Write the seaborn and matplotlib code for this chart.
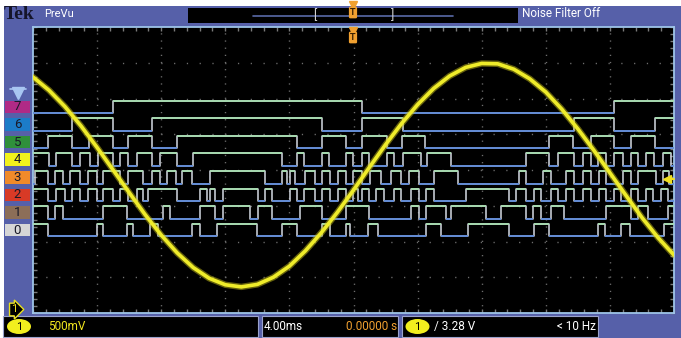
import matplotlib
matplotlib.use("Agg")
import matplotlib.pyplot as plt
import seaborn as sns
from matplotlib.patches import Rectangle, FancyBboxPatch, Ellipse
from matplotlib.lines import Line2D
from matplotlib.transforms import blended_transform_factory

# ---------------- data (time in ms, 4 ms/div; analog value in divisions) -------------
time_ms = list(range(-20, 21))
ch1_div = [2.60, 2.23, 1.77, 1.23, 0.63, 0.00, -0.63, -1.25, -1.82, -2.32,
           -2.73, -3.03, -3.21, -3.27, -3.20, -3.00, -2.69, -2.26, -1.75, -1.18,
           -0.56, 0.08, 0.71, 1.30, 1.83, 2.28, 2.63, 2.87, 2.98, 2.97,
           2.82, 2.55, 2.18, 1.70, 1.15, 0.55, -0.08, -0.71, -1.33, -1.89, -2.38]

# digital channels: logic state at left edge and transition times (ms)
d7_start = 0
d7_edges = [-15.0, 0.5, 16.25]
d6_start = 0
d6_edges = [-17.56, -15.0, -12.56, -1.94, 0.5, 3.06, 13.75, 16.25, 18.81]
d5_start = 0
d5_edges = [-19.06, -17.56, -16.5, -15.0, -14.06, -12.56, -11.0, -3.5, -1.94, -0.44,
            0.56, 2.06, 3.0, 4.44, 12.19, 13.69, 14.81, 16.25, 17.31, 18.81]
d4_start = 1
d4_edges = [-19.0, -18.56, -17.56, -17.06, -16.44, -15.94, -15.0, -14.56, -14.06, -13.5,
            -12.56, -12.06, -11.0, -10.0, -4.44, -3.5, -3.12, -1.94, -1.56, -0.44,
            -0.06, 0.56, 0.94, 2.12, 2.5, 3.12, 4.19, 4.56, 6.06, 10.75,
            12.19, 12.75, 13.75, 14.31, 14.81, 15.25, 15.75, 16.25, 16.81, 17.31,
            17.75, 18.25, 18.75, 19.31, 19.81]
d3_start = 0
d3_edges = [-19.88, -19.06, -18.62, -18.12, -17.69, -17.06, -16.56, -16.0, -15.62, -14.56,
            -14.06, -13.12, -12.56, -12.06, -11.62, -11.06, -10.69, -10.06, -8.94, -5.5,
            -4.44, -4.12, -3.94, -3.62, -3.0, -2.38, -1.94, -1.44, -0.94, -0.44,
            -0.06, 0.56, 1.06, 1.69, 2.31, 2.94, 3.44, 4.06, 5.0, 6.5,
            10.31, 10.75, 11.81, 12.31, 13.25, 13.75, 14.31, 14.81, 15.31, 15.75,
            16.81, 17.31, 17.75, 18.88, 19.31, 19.69]
d2_start = 1
d2_edges = [-19.06, -18.56, -18.0, -17.56, -17.06, -16.56, -16.0, -15.62, -15.0, -14.56,
            -14.06, -13.5, -13.12, -12.81, -11.0, -9.56, -9.12, -8.94, -8.62, -8.12,
            -5.94, -5.5, -5.06, -3.94, -3.5, -3.12, -2.38, -1.94, -1.44, -0.94,
            -0.44, -0.06, 0.25, 0.56, 0.94, 1.38, 1.88, 2.5, 2.94, 3.56,
            4.06, 4.5, 5.0, 7.0, 9.69, 10.12, 10.75, 11.25, 11.69, 12.31,
            12.75, 13.25, 13.75, 14.31, 14.81, 15.31, 15.75, 16.25, 16.69, 17.31,
            17.75, 18.25, 18.69, 19.19, 19.62]
d1_start = 1
d1_edges = [-19.06, -18.62, -18.12, -15.62, -14.12, -11.88, -11.44, -9.56, -8.62, -8.12,
            -6.44, -5.94, -5.06, -3.31, -1.94, -0.44, 0.94, 3.56, 4.06, 4.5,
            5.75, 6.06, 8.25, 9.19, 10.75, 11.19, 11.69, 12.31, 13.12, 15.75,
            17.31, 17.75, 18.38, 19.62]
d0_start = 1
d0_edges = [-19.06, -16.0, -15.62, -14.12, -13.75, -12.69, -12.19, -10.06, -9.56, -8.5,
            -6.0, -4.44, -3.5, -1.94, -1.44, -0.44, -0.19, 0.88, 1.5, 4.5,
            5.44, 7.12, 9.69, 11.25, 12.19, 15.25, 15.69, 16.69, 17.25, 19.38]

channel_names = ["0", "1", "2", "3", "4", "5", "6", "7"]
channel_starts = [d0_start, d1_start, d2_start, d3_start, d4_start, d5_start, d6_start, d7_start]
channel_edges = [d0_edges, d1_edges, d2_edges, d3_edges, d4_edges, d5_edges, d6_edges, d7_edges]
channel_colors = ["#d6d6d6", "#8c6e58", "#d83a26", "#f08a2a", "#f2f21c", "#2f8f3a", "#1c7cc8", "#b02a86"]

trigger_level_div = -0.25

volts_div = "500mV"
time_div = "4.00ms"
trig_pos = "0.00000 s"
trig_level = "3.28 V"
freq_text = "< 10 Hz"

# ---------------- figure layout -------------
W, H = 681, 338
sns.set_style("white")
plt.rcParams["font.family"] = ["Roboto", "DejaVu Sans"]

fig = plt.figure(figsize=(W / 100, H / 100), dpi=100, facecolor="white")


def fx(x):
    return x / W


def fy(y):
    return 1 - y / H


frame_col = "#5660a9"
fig.patches.append(Rectangle((fx(4), 0), 1 - fx(4), fy(6), transform=fig.transFigure,
                             fc=frame_col, ec="none", zorder=-5))

ax = fig.add_axes([fx(33), fy(313), (674 - 33) / W, (313 - 27) / H])
ax.set_zorder(1)
ax.set_facecolor("black")
ax.set_xlim(-20, 20)
ax.set_ylim(-4, 4)

# graticule
grid_col = "#6e6e6e"
ax.vlines([-16, -12, -8, -4, 0, 4, 8, 12, 16], -4, 4, colors=grid_col,
          linestyles=[(0, (0.9, 4.25))], lw=1.0, zorder=1)
ax.hlines([-3, -2, -1, 0, 1, 2, 3], -20, 20, colors=grid_col,
          linestyles=[(0, (0.9, 8.3))], lw=1.0, zorder=1)
ax.set_xticks([-20, -16, -12, -8, -4, 0, 4, 8, 12, 16, 20])
ax.set_yticks([-4, -3, -2, -1, 0, 1, 2, 3, 4])
ax.set_xticks([i * 0.8 - 20 for i in range(51)], minor=True)
ax.set_yticks([i * 0.2 - 4 for i in range(41)], minor=True)
ax.tick_params(which="both", direction="in", top=True, right=True, bottom=True, left=True,
               labelbottom=False, labelleft=False, length=3, width=1, color="#7a7a7a")
for sp in ax.spines.values():
    sp.set_color("#9ec4e8")
    sp.set_linewidth(1.3)

# digital traces
hi_col, lo_col, edge_col = "#a6dcae", "#5d88d6", "#d6dae4"
base_hi, spacing, swing = -1.51, 0.493, 0.35
trans_lab = blended_transform_factory(fig.transFigure, ax.transData)
for k in range(8):
    hi = base_hi + k * spacing
    lo = hi - swing
    edges = channel_edges[k]
    xs = [-20.0] + list(edges) + [20.0]
    states = [channel_starts[k]]
    for _ in edges:
        states.append(1 - states[-1])
    ys = [hi if s else lo for s in states] + [hi if states[-1] else lo]
    sns.lineplot(x=xs, y=ys, ax=ax, drawstyle="steps-post", color=edge_col, lw=1.1,
                 sort=False, estimator=None, legend=False, zorder=2)
    for i, s in enumerate(states):
        ax.hlines(hi if s else lo, xs[i], xs[i + 1], colors=hi_col if s else lo_col,
                  lw=1.3, zorder=3)
    # channel label box on the left
    ax.add_patch(Rectangle((fx(5), lo), (30 - 5) / W, swing, transform=trans_lab,
                           fc=channel_colors[k], ec="none", clip_on=False, zorder=4))
    ax.text(fx(17.5), (lo + hi) / 2, channel_names[k], transform=trans_lab, ha="center",
            va="center", fontsize=9.5, color="#1a1a28", clip_on=False, zorder=5)

# analog channel 1
sns.lineplot(x=time_ms, y=ch1_div, ax=ax, color="#c8c018", lw=4.6, alpha=0.5,
             sort=False, estimator=None, legend=False, zorder=6)
sns.lineplot(x=time_ms, y=ch1_div, ax=ax, color="#efec2a", lw=2.6,
             sort=False, estimator=None, legend=False, zorder=7)
ax.set_xlabel("")
ax.set_ylabel("")

# trigger level arrow (right side)
ax.plot([19.55, 20.0], [trigger_level_div, trigger_level_div], color="#f0e020", lw=1.5,
        zorder=8, clip_on=False)
ax.plot([19.55], [trigger_level_div], marker="<", ms=6, color="#f0e020", zorder=8,
        clip_on=False)

# funnel icon above channel labels
fig.lines.append(Line2D([fx(18)], [fy(93)], marker="v", ms=8, color="#a8c6f2",
                        transform=fig.transFigure, zorder=5))
fig.lines.append(Line2D([fx(10), fx(26)], [fy(88.5), fy(88.5)], color="#a8c6f2", lw=1.2,
                        transform=fig.transFigure, zorder=5))

# top bar
fig.text(fx(4), fy(14.5), "Tek", family=["Liberation Serif", "DejaVu Serif"],
         fontweight="bold", fontsize=14, color="#15152a", va="center", ha="left")
fig.text(fx(44), fy(14), "PreVu", fontsize=8, color="white", va="center", ha="left")
fig.patches.append(Rectangle((fx(188), fy(23)), (518 - 188) / W, 15 / H,
                             transform=fig.transFigure, fc="black", ec="none", zorder=0))
fig.lines.append(Line2D([fx(253), fx(453)], [fy(16), fy(16)], color="#5a6aa8", lw=1.2,
                        transform=fig.transFigure, zorder=2))
fig.text(fx(315), fy(15.5), "[", fontsize=9, color="#d0d0d0", va="center", ha="center")
fig.text(fx(393), fy(15.5), "]", fontsize=9, color="#d0d0d0", va="center", ha="center")
fig.text(fx(522), fy(13.5), "Noise Filter Off", fontsize=8.5, color="white",
         va="center", ha="left")

# trigger position markers
for ytri, ybox in [(4.5, 12.5), (30.5, 37.5)]:
    fig.lines.append(Line2D([fx(353)], [fy(ytri)], marker="v", ms=6, color="#f0a030",
                            transform=fig.transFigure, zorder=9))
    fig.text(fx(353), fy(ybox), "T", fontsize=6.5, fontweight="bold", color="#3a2000",
             ha="center", va="center", zorder=9,
             bbox=dict(boxstyle="round,pad=0.15", fc="#f0a030", ec="none"))

# ground marker for channel 1
fig.text(fx(14), fy(309.5), "1", fontsize=8, color="#f0e020", ha="center", va="center",
         zorder=9, bbox=dict(boxstyle="rarrow,pad=0.12", fc="black", ec="#e8e020", lw=1))

# status bar
for x0, x1 in [(3, 258), (262, 398), (402, 598)]:
    fig.patches.append(FancyBboxPatch((fx(x0), fy(337)), (x1 - x0) / W, 21 / H,
                                      boxstyle="square,pad=0", transform=fig.transFigure,
                                      fc="black", ec="#9aa2cc", lw=0.8, zorder=0))
for cx in (19, 417.5):
    fig.patches.append(Ellipse((fx(cx), fy(326.5)), 24 / W, 15 / H, transform=fig.transFigure,
                               fc="#f2ee1e", ec="none", zorder=2))
    fig.text(fx(cx), fy(326.5), "1", fontsize=8, color="black", ha="center", va="center",
             zorder=3)
fig.text(fx(48), fy(326.5), volts_div, fontsize=8.5, color="#f2e61e", ha="left", va="center")
fig.text(fx(264), fy(326.5), time_div, fontsize=8.5, color="white", ha="left", va="center")
fig.text(fx(397), fy(326.5), trig_pos, fontsize=8.5, color="#f0a030", ha="right", va="center")
fig.text(fx(434), fy(326.5), "/ " + trig_level, fontsize=8.5, color="white", ha="left",
         va="center")
fig.text(fx(596), fy(326.5), freq_text, fontsize=8.5, color="white", ha="right", va="center")

fig.savefig("out.png", dpi=100, facecolor=fig.get_facecolor())
